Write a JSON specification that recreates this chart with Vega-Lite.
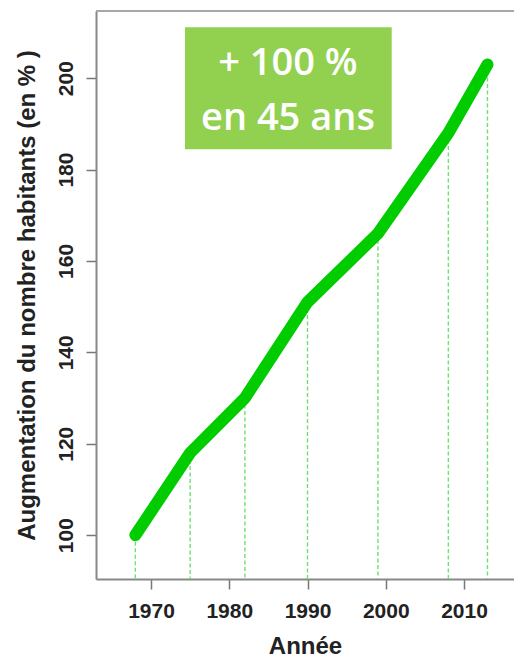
{
  "$schema": "https://vega.github.io/schema/vega-lite/v6.json",
  "width": 418,
  "height": 568,
  "autosize": {"type": "none"},
  "padding": {"left": 96, "top": 11, "right": 0, "bottom": 80},
  "background": "white",
  "config": {
    "view": {"stroke": null},
    "font": "Liberation Sans",
    "axis": {
      "grid": false,
      "domainColor": "#888888", "domainWidth": 2,
      "tickColor": "#777777", "tickWidth": 1.5, "tickSize": 10,
      "labelFont": "Liberation Sans", "labelFontSize": 21, "labelFontWeight": "bold", "labelColor": "#222222",
      "titleFont": "Liberation Sans", "titleFontSize": 24, "titleFontWeight": "bold", "titleColor": "#222222"
    }
  },
  "data": {
    "values": [
      {"year": 1968, "value": 100},
      {"year": 1975, "value": 118},
      {"year": 1982, "value": 130},
      {"year": 1990, "value": 151},
      {"year": 1999, "value": 166},
      {"year": 2008, "value": 188},
      {"year": 2013, "value": 203}
    ]
  },
  "layer": [
    {
      "mark": {"type": "rule", "color": "#6fe06f", "strokeWidth": 1.4, "strokeDash": [4, 2.5]},
      "encoding": {
        "x": {
          "field": "year", "type": "quantitative",
          "scale": {"domain": [1962.97, 2016.39], "nice": false, "zero": false},
          "axis": {
            "values": [1970, 1980, 1990, 2000, 2010], "format": "d",
            "labelPadding": 11, "labelBaseline": "top",
            "title": "Année", "titlePadding": 13
          }
        },
        "y": {
          "field": "value", "type": "quantitative",
          "scale": {"domain": [90.4, 214.7], "nice": false, "zero": false},
          "axis": {
            "values": [100, 120, 140, 160, 180, 200],
            "labelAngle": -90, "labelAlign": "center", "labelBaseline": "alphabetic", "labelPadding": 14,
            "title": "Augmentation du nombre habitants (en % )", "titlePadding": 16
          }
        },
        "y2": {"datum": 90.4}
      }
    },
    {
      "data": {"values": [{}]},
      "mark": {"type": "rule", "color": "#a8a8a8", "strokeWidth": 2},
      "encoding": {
        "y": {"datum": 214.7, "type": "quantitative"}
      }
    },
    {
      "mark": {"type": "line", "color": "#00cc00", "strokeWidth": 12, "strokeCap": "round", "strokeJoin": "round"},
      "encoding": {
        "x": {"field": "year", "type": "quantitative"},
        "y": {"field": "value", "type": "quantitative"}
      }
    },
    {
      "data": {"values": [{}]},
      "mark": {"type": "rect", "color": "#92d050"},
      "encoding": {
        "x": {"datum": 1974.34, "type": "quantitative"},
        "x2": {"datum": 2000.76},
        "y": {"datum": 211.13, "type": "quantitative"},
        "y2": {"datum": 184.43}
      }
    },
    {
      "data": {"values": [{}]},
      "mark": {"type": "text", "text": ["+ 100 %", "en 45 ans"], "font": "Open Sans", "fontSize": 38, "fontWeight": 600, "color": "white", "align": "center", "baseline": "alphabetic", "lineHeight": 55},
      "encoding": {
        "x": {"datum": 1987.5, "type": "quantitative"},
        "y": {"datum": 200.7, "type": "quantitative"}
      }
    }
  ]
}
